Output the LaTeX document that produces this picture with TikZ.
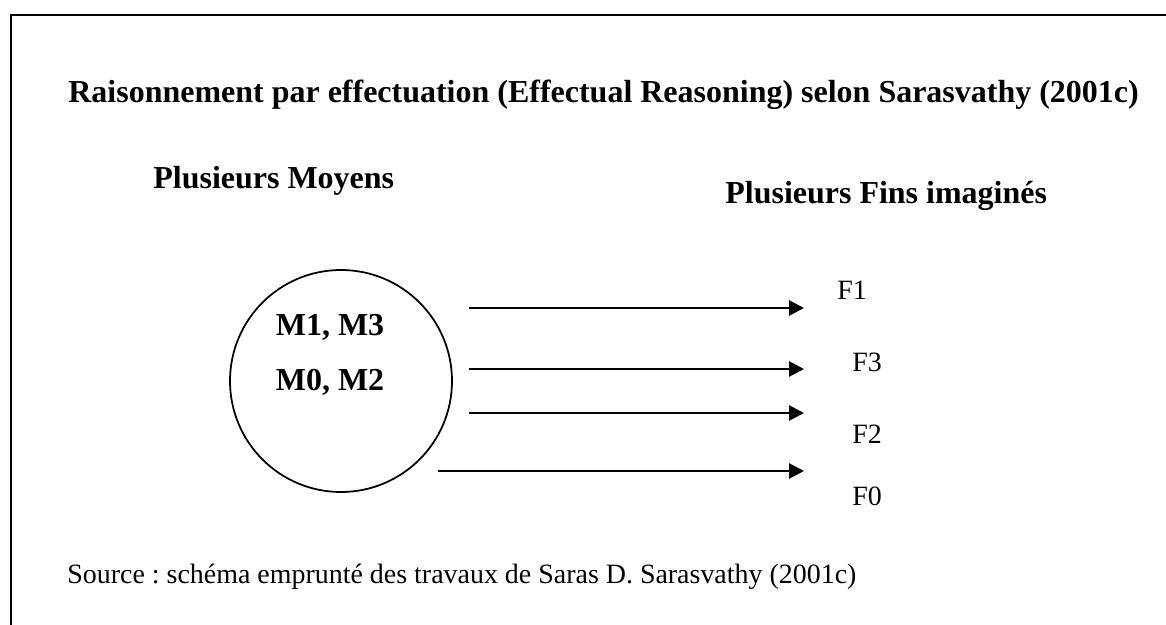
\documentclass[tikz,border=0pt]{standalone}
\usepackage{fontspec}
\setmainfont{Liberation Serif}
\frenchspacing
\usetikzlibrary{arrows.meta}

\begin{document}
\begin{tikzpicture}[
        titre/.style={anchor=base west, inner sep=0pt,
            font=\bfseries\fontsize{18.2}{22}\selectfont},
        moyen/.style={anchor=base, inner sep=0pt,
            font=\bfseries\fontsize{18.2}{22}\selectfont},
        fin/.style={anchor=base west, inner sep=0pt,
            font=\fontsize{15.9}{19}\selectfont},
        fleche/.style={ultra thick, -{Triangle[length=0.3cm, width=0.3cm]}}]
    \useasboundingbox (0,0) rectangle (23.32,-12.5);
    % cadre
    \draw[line width=1.1pt] (0.22,-12.5) -- (0.22,-0.30) -- (23.32,-0.30);

    \draw (1.36,-2.06) node(T) [titre]
    {Raisonnement par effectuation (Effectual Reasoning) selon Sarasvathy (2001c)};
    \draw (3.06,-3.76) node(PM) [titre] {Plusieurs Moyens};
    \draw (14.5,-4.06) node(PF) [titre] {Plusieurs Fins imaginés};

    % les moyens
    \draw (6.82,-7.62) node(M) [draw, line width=1pt,
            circle,
            inner sep=0pt,
            minimum size=4.44cm] {};
    \draw (6.6,-6.70) node(M13) [moyen] {M1, M3};
    \draw (6.6,-7.80) node(M02) [moyen] {M0, M2};

    % les fins
    \draw (16.74,-5.98) node(F1) [fin] {F1};
    \draw (17.04,-7.42) node(F3) [fin] {F3};
    \draw (17.04,-8.86) node(F2) [fin] {F2};
    \draw (17.04,-10.10) node(F0) [fin] {F0};

    \coordinate (d1) at (9.38,-6.16);
    \coordinate (a1) at (16.08,-6.16);
    \coordinate (d3) at (9.38,-7.38);
    \coordinate (a3) at (16.08,-7.38);
    \coordinate (d2) at (9.38,-8.26);
    \coordinate (a2) at (16.08,-8.26);
    \coordinate (d0) at (8.76,-9.42);
    \coordinate (a0) at (16.08,-9.42);
    \draw[fleche] (d1) -- (a1);
    \draw[fleche] (d3) -- (a3);
    \draw[fleche] (d2) -- (a2);
    \draw[fleche] (d0) -- (a0);

    \draw (1.34,-11.66) node(S) [fin]
    {Source : schéma emprunté des travaux de Saras D. Sarasvathy (2001c)};
\end{tikzpicture}
\end{document}
